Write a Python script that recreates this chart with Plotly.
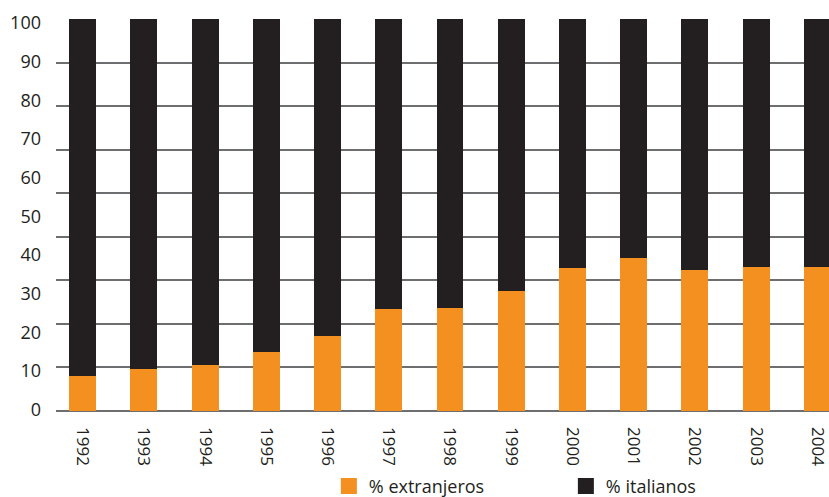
import plotly.graph_objects as go

years = ["1992", "1993", "1994", "1995", "1996", "1997", "1998", "1999",
         "2000", "2001", "2002", "2003", "2004"]
extranjeros = [9.0, 10.8, 11.8, 15.1, 19.2, 26.1, 26.4, 30.7, 36.5, 39.1, 36.0, 36.8, 36.8]
italianos = [round(100 - v, 1) for v in extranjeros]
y_labels = [0, 10, 20, 30, 40, 50, 60, 70, 80, 90, 100]
series_names = ["% extranjeros", "% italianos"]

ORANGE = "#F39020"
BLACK = "#231F20"
FONT = "Open Sans"

fig = go.Figure()
fig.add_trace(go.Bar(x=years, y=extranjeros, name=series_names[0], showlegend=False,
                     marker=dict(color=ORANGE, line=dict(width=0)), width=0.44))
fig.add_trace(go.Bar(x=years, y=italianos, name=series_names[1], showlegend=False,
                     marker=dict(color=BLACK, line=dict(width=0)), width=0.44))
# legend entries with larger square swatches
for name, col in zip(series_names, [ORANGE, BLACK]):
    fig.add_trace(go.Scatter(x=[years[0]], y=[None], mode="markers", name=name,
                             marker=dict(symbol="square", size=17, color=col),
                             hoverinfo="skip"))
# invisible trace so the label axis is drawn
fig.add_trace(go.Scatter(x=[years[0]], y=[0], yaxis="y2", mode="markers",
                         marker=dict(opacity=0), showlegend=False, hoverinfo="skip"))

fig.update_layout(
    barmode="stack",
    width=829, height=497,
    margin=dict(l=56, r=0, t=19, b=86, autoexpand=False),
    paper_bgcolor="white", plot_bgcolor="white",
    font=dict(family=FONT, color=BLACK),
    xaxis=dict(type="category", range=[-0.435, 12.19], tickangle=90,
               tickfont=dict(size=17, color=BLACK), showgrid=False,
               showline=False, ticks="", ticklabelstandoff=15, automargin=False),
    yaxis=dict(range=[0, 100], tickmode="linear", tick0=0, dtick=100 / 9,
               showticklabels=False, showgrid=True, gridcolor="#6D6E70",
               gridwidth=1.5, zeroline=True, zerolinecolor="#6D6E70",
               zerolinewidth=1.5, ticks="", automargin=False),
    yaxis2=dict(range=[-0.34, 101.03], overlaying="y", side="left",
                tickmode="array", tickvals=y_labels,
                ticktext=[str(v) for v in y_labels],
                tickfont=dict(size=18, color=BLACK), showgrid=False,
                zeroline=False, ticks="", showline=False,
                ticklabelstandoff=14, automargin=False),
    legend=dict(orientation="h", x=0.353, xanchor="left", y=-0.145, yanchor="top",
                font=dict(size=18, color=BLACK), entrywidth=192,
                itemsizing="trace", traceorder="normal"),
    showlegend=True,
)

fig.write_html("out.html", config={"displayModeBar": False},
               post_script="document.body.style.margin='0';")
